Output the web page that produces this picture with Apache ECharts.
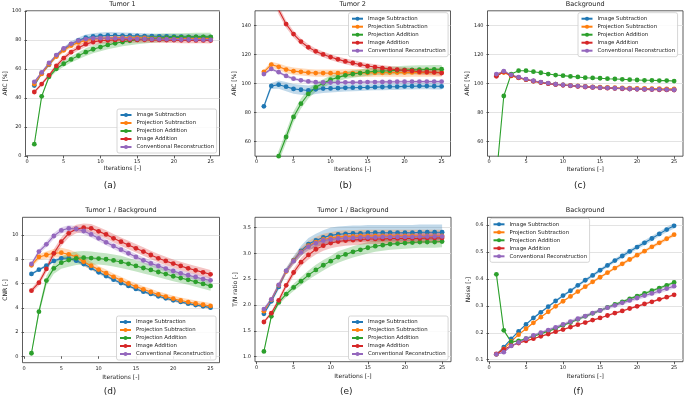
<!DOCTYPE html>
<html>
<head>
<meta charset="utf-8">
<script src="https://cdn.jsdelivr.net/npm/echarts@6/dist/echarts.min.js"></script>
<style>html,body{margin:0;padding:0;background:#fff}#chart{width:685px;height:398px}</style>
</head>
<body>
<div id="chart"></div>
<script>
var myChart = echarts.init(document.getElementById('chart'));

// x values and tick labels
var iters = [1, 2, 3, 4, 5, 6, 7, 8, 9, 10, 11, 12, 13, 14, 15, 16, 17, 18, 19, 20, 21, 22, 23, 24, 25];
var xTicks = [0, 5, 10, 15, 20, 25];
var methods = ['Image Subtraction', 'Projection Subtraction', 'Projection Addition', 'Image Addition', 'Conventional Reconstruction'];
var colors = ['#1f77b4', '#ff7f0e', '#2ca02c', '#d62728', '#9467bd'];
var bandColors = ['rgba(31,119,180,0.28)', 'rgba(255,127,14,0.28)', 'rgba(44,160,44,0.28)', 'rgba(214,39,40,0.28)', 'rgba(148,103,189,0.28)'];

// (a) Tumor 1 ARC [%]
var arcT1Ticks = [0, 20, 40, 60, 80, 100];
var arcT1_IS = [48.4, 56.9, 62.8, 69.0, 73.5, 77.0, 79.6, 81.4, 82.3, 82.7, 83.0, 83.0, 82.9, 82.8, 82.7, 82.6, 82.5, 82.4, 82.3, 82.2, 82.1, 82.0, 82.0, 81.9, 81.8];
var arcT1_PS = [49.5, 56.5, 63.0, 68.5, 72.8, 76.0, 78.2, 79.6, 80.5, 81.0, 81.2, 81.3, 81.3, 81.3, 81.3, 81.3, 81.2, 81.2, 81.2, 81.2, 81.1, 81.1, 81.1, 81.0, 81.0];
var arcT1_PA = [8.0, 41.0, 54.5, 60.0, 63.5, 66.5, 69.0, 71.5, 73.5, 75.0, 76.5, 77.6, 78.5, 79.3, 80.0, 80.5, 80.9, 81.2, 81.5, 81.7, 81.8, 81.9, 82.0, 82.0, 82.0];
var arcT1_IA = [44.0, 49.5, 55.5, 62.0, 67.3, 71.5, 74.6, 77.0, 78.5, 79.3, 79.7, 79.9, 80.0, 80.0, 80.0, 80.0, 79.9, 79.9, 79.8, 79.8, 79.7, 79.7, 79.6, 79.6, 79.5];
var arcT1_CR = [51.0, 57.5, 64.0, 69.5, 74.0, 77.2, 79.4, 80.5, 81.0, 81.1, 81.1, 81.0, 80.9, 80.8, 80.7, 80.6, 80.5, 80.4, 80.4, 80.3, 80.2, 80.2, 80.1, 80.1, 80.0];
var arcT1_IS_sd = [1.0, 1.0, 1.2, 1.4, 1.6, 1.8, 2.0, 2.2, 2.3, 2.3, 2.3, 2.2, 2.1, 2.0, 2.0, 1.9, 1.9, 1.8, 1.8, 1.8, 1.8, 1.7, 1.7, 1.7, 1.7];
var arcT1_PS_sd = [1.0, 1.0, 1.1, 1.3, 1.5, 1.6, 1.7, 1.8, 1.8, 1.8, 1.8, 1.8, 1.8, 1.8, 1.8, 1.8, 1.8, 1.8, 1.8, 1.8, 1.8, 1.8, 1.8, 1.8, 1.8];
var arcT1_PA_sd = [0.5, 1.0, 1.4, 1.8, 2.0, 2.2, 2.4, 2.6, 2.8, 2.9, 3.0, 3.0, 3.0, 3.0, 3.0, 3.0, 2.9, 2.9, 2.9, 2.8, 2.8, 2.8, 2.8, 2.8, 2.8];
var arcT1_IA_sd = [1.0, 1.2, 1.3, 1.5, 1.7, 1.8, 1.9, 2.0, 2.0, 2.0, 2.0, 2.0, 2.0, 2.0, 2.0, 2.0, 2.0, 2.0, 2.0, 2.0, 2.0, 2.0, 2.0, 2.0, 2.0];
var arcT1_CR_sd = [0.8, 0.8, 0.9, 0.9, 1.0, 1.0, 1.0, 1.0, 1.0, 1.0, 1.0, 1.0, 1.0, 1.0, 1.0, 1.0, 1.0, 1.0, 1.0, 1.0, 1.0, 1.0, 1.0, 1.0, 1.0];

// (b) Tumor 2 ARC [%]
var arcTicks = [60, 80, 100, 120, 140];
var arcT2_IS = [84.3, 98.3, 99.2, 97.8, 96.3, 95.7, 95.2, 96.0, 96.5, 96.6, 96.8, 97.0, 97.1, 97.2, 97.3, 97.5, 97.6, 97.8, 97.8, 98.0, 98.1, 98.2, 98.2, 98.1, 98.0];
var arcT2_PS = [108.0, 113.0, 111.5, 109.6, 108.5, 108.0, 107.5, 107.2, 107.2, 107.1, 107.1, 107.2, 107.2, 107.3, 107.3, 107.4, 107.4, 107.5, 107.5, 107.5, 107.6, 107.6, 107.6, 107.6, 107.6];
var arcT2_PA = [15.0, 35.0, 50.0, 63.2, 77.0, 86.1, 92.8, 97.4, 100.1, 102.6, 104.2, 105.6, 106.5, 107.2, 107.9, 108.4, 108.6, 108.8, 109.1, 109.3, 109.4, 109.5, 109.6, 109.7, 109.8];
var arcT2_IA = [190.0, 165.0, 150.5, 140.9, 134.0, 128.8, 124.9, 122.1, 120.0, 118.2, 116.6, 115.2, 114.1, 113.0, 112.0, 111.3, 110.6, 110.0, 109.5, 109.0, 108.6, 108.1, 107.9, 107.7, 107.2];
var arcT2_CR = [106.5, 110.0, 107.8, 105.2, 103.3, 102.2, 101.4, 100.9, 100.7, 100.7, 100.7, 100.8, 100.8, 100.9, 101.0, 101.0, 101.1, 101.1, 101.2, 101.2, 101.3, 101.3, 101.3, 101.3, 101.3];
var arcT2_IS_sd = [1.5, 2.0, 2.8, 3.2, 3.4, 3.5, 3.5, 3.3, 3.0, 2.8, 2.6, 2.5, 2.4, 2.3, 2.2, 2.2, 2.2, 2.2, 2.2, 2.2, 2.2, 2.2, 2.2, 2.2, 2.2];
var arcT2_PS_sd = [1.5, 2.0, 2.3, 2.5, 2.5, 2.5, 2.5, 2.5, 2.5, 2.5, 2.6, 2.6, 2.7, 2.7, 2.8, 2.8, 2.8, 2.9, 2.9, 3.0, 3.0, 3.0, 3.0, 3.0, 3.0];
var arcT2_PA_sd = [2.0, 3.0, 4.0, 4.0, 3.8, 3.5, 3.2, 3.0, 2.8, 2.7, 2.6, 2.5, 2.5, 2.5, 2.6, 2.6, 2.7, 2.8, 2.8, 2.9, 3.0, 3.0, 3.0, 3.0, 3.0];
var arcT2_IA_sd = [3.0, 3.0, 3.0, 2.5, 2.3, 2.2, 2.1, 2.0, 2.0, 2.0, 2.0, 2.0, 2.0, 2.0, 2.0, 2.0, 2.0, 2.0, 2.0, 2.0, 2.0, 2.0, 2.0, 2.0, 2.0];
var arcT2_CR_sd = [1.0, 1.0, 1.0, 1.0, 1.0, 1.0, 1.0, 1.0, 1.0, 1.0, 1.0, 1.0, 1.0, 1.0, 1.0, 1.0, 1.0, 1.0, 1.0, 1.0, 1.0, 1.0, 1.0, 1.0, 1.0];

// (c) Background ARC [%]
var arcBg_IS = [105.5, 108.0, 105.6, 104.1, 102.8, 101.7, 100.8, 100.1, 99.5, 99.0, 98.6, 98.2, 97.8, 97.5, 97.2, 97.0, 96.8, 96.6, 96.4, 96.3, 96.2, 96.1, 96.0, 95.9, 95.8];
var arcBg_PS = [105.8, 107.5, 105.2, 103.8, 102.6, 101.6, 100.8, 100.1, 99.5, 99.1, 98.7, 98.3, 98.0, 97.7, 97.5, 97.3, 97.1, 96.9, 96.8, 96.7, 96.6, 96.5, 96.4, 96.3, 96.3];
var arcBg_PA = [36.0, 91.4, 106.5, 108.8, 108.8, 108.1, 107.4, 106.5, 105.8, 105.4, 104.9, 104.5, 104.0, 103.8, 103.6, 103.3, 103.1, 102.9, 102.6, 102.4, 102.2, 102.2, 102.0, 102.0, 101.7];
var arcBg_IA = [105.0, 108.0, 105.5, 104.0, 102.7, 101.6, 100.7, 99.9, 99.3, 98.8, 98.4, 98.0, 97.6, 97.3, 97.0, 96.8, 96.6, 96.4, 96.2, 96.0, 95.9, 95.8, 95.7, 95.6, 95.5];
var arcBg_CR = [106.5, 108.5, 106.0, 104.3, 103.0, 101.9, 101.0, 100.2, 99.5, 99.0, 98.6, 98.2, 97.8, 97.5, 97.2, 97.0, 96.8, 96.6, 96.4, 96.2, 96.1, 96.0, 95.9, 95.8, 95.7];

// (d) Tumor 1 / Background CNR [-]
var cnrTicks = [0, 2, 4, 6, 8, 10];
var cnr_IS = [6.79, 7.14, 7.47, 7.86, 8.08, 8.08, 7.88, 7.60, 7.28, 6.92, 6.62, 6.32, 6.04, 5.80, 5.55, 5.33, 5.14, 4.95, 4.78, 4.62, 4.48, 4.34, 4.23, 4.12, 4.01];
var cnr_PS = [7.50, 8.19, 8.35, 8.49, 8.54, 8.41, 8.19, 7.80, 7.47, 7.15, 6.85, 6.55, 6.27, 6.00, 5.75, 5.52, 5.30, 5.10, 4.92, 4.75, 4.60, 4.47, 4.35, 4.25, 4.15];
var cnr_PA = [0.25, 3.68, 6.24, 7.25, 7.72, 7.94, 8.08, 8.13, 8.10, 8.06, 8.00, 7.90, 7.78, 7.62, 7.45, 7.28, 7.12, 6.95, 6.78, 6.60, 6.45, 6.30, 6.14, 5.97, 5.80];
var cnr_IA = [5.41, 6.07, 7.20, 8.49, 9.45, 10.14, 10.50, 10.60, 10.55, 10.30, 10.05, 9.73, 9.45, 9.18, 8.90, 8.63, 8.35, 8.08, 7.86, 7.64, 7.45, 7.25, 7.09, 6.92, 6.76];
var cnr_CR = [7.61, 8.63, 9.23, 9.92, 10.38, 10.55, 10.50, 10.33, 10.05, 9.73, 9.40, 9.09, 8.79, 8.49, 8.19, 7.91, 7.66, 7.45, 7.23, 7.03, 6.84, 6.68, 6.54, 6.37, 6.26];
var cnr_IS_sd = [0.1, 0.1, 0.12, 0.12, 0.14, 0.15, 0.15, 0.15, 0.15, 0.15, 0.14, 0.14, 0.13, 0.13, 0.12, 0.12, 0.12, 0.11, 0.11, 0.11, 0.1, 0.1, 0.1, 0.1, 0.1];
var cnr_PS_sd = [0.2, 0.25, 0.3, 0.35, 0.4, 0.4, 0.38, 0.35, 0.33, 0.3, 0.3, 0.28, 0.28, 0.27, 0.27, 0.26, 0.26, 0.25, 0.25, 0.25, 0.25, 0.25, 0.25, 0.25, 0.25];
var cnr_PA_sd = [0.1, 0.3, 0.4, 0.45, 0.5, 0.55, 0.55, 0.55, 0.55, 0.5, 0.5, 0.5, 0.5, 0.48, 0.46, 0.45, 0.44, 0.43, 0.42, 0.41, 0.4, 0.4, 0.4, 0.4, 0.4];
var cnr_IA_sd = [0.2, 0.25, 0.3, 0.35, 0.35, 0.35, 0.35, 0.35, 0.35, 0.35, 0.35, 0.35, 0.35, 0.35, 0.35, 0.35, 0.35, 0.35, 0.35, 0.35, 0.35, 0.35, 0.35, 0.35, 0.35];
var cnr_CR_sd = [0.15, 0.2, 0.25, 0.25, 0.25, 0.25, 0.25, 0.25, 0.25, 0.25, 0.25, 0.25, 0.25, 0.25, 0.25, 0.25, 0.25, 0.25, 0.25, 0.25, 0.25, 0.25, 0.25, 0.25, 0.25];

// (e) Tumor 1 / Background T/N ratio [-]
var tnTicks = [1.0, 1.5, 2.0, 2.5, 3.0, 3.5];
var tn_IS = [1.83, 2.07, 2.35, 2.66, 2.87, 3.05, 3.18, 3.25, 3.31, 3.35, 3.37, 3.38, 3.39, 3.39, 3.40, 3.40, 3.40, 3.40, 3.40, 3.40, 3.40, 3.41, 3.41, 3.41, 3.41];
var tn_PS = [1.88, 2.10, 2.38, 2.65, 2.86, 3.03, 3.15, 3.22, 3.27, 3.30, 3.32, 3.33, 3.33, 3.34, 3.34, 3.34, 3.34, 3.34, 3.34, 3.34, 3.34, 3.34, 3.34, 3.34, 3.34];
var tn_PA = [1.10, 1.78, 2.05, 2.21, 2.34, 2.46, 2.58, 2.68, 2.77, 2.85, 2.93, 2.98, 3.03, 3.07, 3.11, 3.14, 3.16, 3.18, 3.19, 3.20, 3.21, 3.22, 3.22, 3.22, 3.23];
var tn_IA = [1.67, 1.84, 2.09, 2.38, 2.63, 2.83, 2.97, 3.08, 3.15, 3.20, 3.23, 3.25, 3.26, 3.27, 3.28, 3.28, 3.28, 3.29, 3.29, 3.29, 3.29, 3.29, 3.30, 3.30, 3.30];
var tn_CR = [1.92, 2.11, 2.39, 2.66, 2.85, 3.02, 3.13, 3.20, 3.25, 3.27, 3.29, 3.30, 3.30, 3.31, 3.31, 3.31, 3.32, 3.32, 3.32, 3.32, 3.32, 3.33, 3.33, 3.33, 3.33];
var tn_IS_sd = [0.03, 0.04, 0.05, 0.06, 0.08, 0.1, 0.12, 0.13, 0.14, 0.15, 0.15, 0.15, 0.15, 0.15, 0.15, 0.15, 0.15, 0.15, 0.15, 0.15, 0.15, 0.15, 0.15, 0.15, 0.15];
var tn_PS_sd = [0.03, 0.04, 0.05, 0.06, 0.07, 0.08, 0.09, 0.1, 0.11, 0.11, 0.12, 0.12, 0.12, 0.12, 0.12, 0.12, 0.12, 0.12, 0.12, 0.12, 0.12, 0.12, 0.12, 0.12, 0.12];
var tn_PA_sd = [0.02, 0.04, 0.05, 0.06, 0.07, 0.08, 0.09, 0.1, 0.1, 0.1, 0.11, 0.11, 0.11, 0.11, 0.11, 0.11, 0.11, 0.11, 0.11, 0.11, 0.11, 0.11, 0.11, 0.11, 0.11];
var tn_IA_sd = [0.03, 0.04, 0.05, 0.06, 0.07, 0.08, 0.09, 0.1, 0.1, 0.1, 0.1, 0.1, 0.1, 0.1, 0.1, 0.1, 0.1, 0.1, 0.1, 0.1, 0.1, 0.1, 0.1, 0.1, 0.1];
var tn_CR_sd = [0.03, 0.04, 0.05, 0.05, 0.06, 0.07, 0.07, 0.08, 0.08, 0.08, 0.08, 0.08, 0.08, 0.08, 0.08, 0.08, 0.08, 0.08, 0.08, 0.08, 0.08, 0.08, 0.08, 0.08, 0.08];

// (f) Background Noise [-]
var noiseTicks = [0.1, 0.2, 0.3, 0.4, 0.5, 0.6];
var noise_IS = [0.120, 0.147, 0.177, 0.205, 0.231, 0.255, 0.276, 0.297, 0.318, 0.338, 0.356, 0.376, 0.395, 0.413, 0.432, 0.450, 0.468, 0.485, 0.502, 0.518, 0.534, 0.550, 0.567, 0.583, 0.597];
var noise_PS = [0.120, 0.140, 0.168, 0.193, 0.215, 0.237, 0.258, 0.278, 0.298, 0.317, 0.335, 0.353, 0.371, 0.389, 0.406, 0.423, 0.440, 0.456, 0.472, 0.488, 0.503, 0.519, 0.534, 0.549, 0.564];
var noise_PA = [0.417, 0.209, 0.166, 0.170, 0.178, 0.187, 0.196, 0.206, 0.216, 0.228, 0.238, 0.250, 0.261, 0.272, 0.283, 0.294, 0.305, 0.315, 0.326, 0.336, 0.346, 0.356, 0.366, 0.376, 0.387];
var noise_IA = [0.122, 0.138, 0.152, 0.162, 0.170, 0.178, 0.187, 0.195, 0.204, 0.212, 0.221, 0.230, 0.238, 0.247, 0.255, 0.264, 0.273, 0.281, 0.290, 0.298, 0.307, 0.315, 0.324, 0.332, 0.341];
var noise_CR = [0.120, 0.128, 0.151, 0.164, 0.178, 0.190, 0.200, 0.210, 0.220, 0.231, 0.241, 0.252, 0.262, 0.273, 0.283, 0.293, 0.302, 0.311, 0.320, 0.329, 0.338, 0.346, 0.355, 0.364, 0.373];
var noise_IS_sd = [0.002, 0.002, 0.003, 0.003, 0.003, 0.004, 0.004, 0.004, 0.005, 0.005, 0.005, 0.006, 0.006, 0.006, 0.007, 0.007, 0.007, 0.008, 0.008, 0.008, 0.009, 0.009, 0.009, 0.01, 0.01];
var noise_PS_sd = [0.002, 0.002, 0.002, 0.003, 0.003, 0.003, 0.003, 0.004, 0.004, 0.004, 0.004, 0.004, 0.005, 0.005, 0.005, 0.005, 0.005, 0.006, 0.006, 0.006, 0.006, 0.006, 0.007, 0.007, 0.007];
var noise_PA_sd = [0.004, 0.003, 0.003, 0.003, 0.003, 0.003, 0.003, 0.003, 0.004, 0.004, 0.004, 0.004, 0.004, 0.004, 0.004, 0.004, 0.005, 0.005, 0.005, 0.005, 0.005, 0.005, 0.005, 0.005, 0.005];
var noise_IA_sd = [0.002, 0.002, 0.002, 0.002, 0.002, 0.002, 0.003, 0.003, 0.003, 0.003, 0.003, 0.003, 0.003, 0.003, 0.003, 0.003, 0.004, 0.004, 0.004, 0.004, 0.004, 0.004, 0.004, 0.004, 0.004];
var noise_CR_sd = [0.002, 0.003, 0.004, 0.004, 0.005, 0.005, 0.005, 0.006, 0.006, 0.006, 0.006, 0.007, 0.007, 0.007, 0.007, 0.007, 0.008, 0.008, 0.008, 0.008, 0.008, 0.008, 0.009, 0.009, 0.009];

var FONT = 'DejaVu Sans';
var TXT = '#222';

// layout of the six panels
var panels = [
    { title: 'Tumor 1', tag: '(a)', tagX: 110, yName: 'ARC [%]', nameGap: 16, row: 0,
      grid: { left: 25.5, top: 10.8, width: 194, height: 145 }, yMin: 0, yMax: 100, yTicks: arcT1Ticks, dec: 0,
      legend: { left: 117, top: 109 },
      means: [arcT1_IS, arcT1_PS, arcT1_PA, arcT1_IA, arcT1_CR],
      sds: [arcT1_IS_sd, arcT1_PS_sd, arcT1_PA_sd, arcT1_IA_sd, arcT1_CR_sd] },
    { title: 'Tumor 2', tag: '(b)', tagX: 345.7, yName: 'ARC [%]', nameGap: 18, row: 0,
      grid: { left: 255, top: 10.8, width: 195.5, height: 145.4 }, yMin: 50, yMax: 150, yTicks: arcTicks, dec: 0,
      legend: { left: 348.5, top: 12.7 },
      means: [arcT2_IS, arcT2_PS, arcT2_PA, arcT2_IA, arcT2_CR],
      sds: [arcT2_IS_sd, arcT2_PS_sd, arcT2_PA_sd, arcT2_IA_sd, arcT2_CR_sd] },
    { title: 'Background', tag: '(c)', tagX: 580, yName: 'ARC [%]', nameGap: 17.5, row: 0,
      grid: { left: 487.5, top: 10.8, width: 195.5, height: 145.4 }, yMin: 50, yMax: 150, yTicks: arcTicks, dec: 0,
      legend: { left: 578, top: 12.7 },
      means: [arcBg_IS, arcBg_PS, arcBg_PA, arcBg_IA, arcBg_CR],
      sds: null },
    { title: 'Tumor 1 / Background', tag: '(d)', tagX: 110, yName: 'CNR [-]', nameGap: 14.5, row: 1,
      grid: { left: 22.5, top: 217.3, width: 197, height: 145.4 }, yMin: -0.53, yMax: 11.46, yTicks: cnrTicks, dec: 0,
      legend: { left: 116.5, top: 316 },
      means: [cnr_IS, cnr_PS, cnr_PA, cnr_IA, cnr_CR],
      sds: [cnr_IS_sd, cnr_PS_sd, cnr_PA_sd, cnr_IA_sd, cnr_CR_sd] },
    { title: 'Tumor 1 / Background', tag: '(e)', tagX: 346.3, yName: 'T/N ratio [-]', nameGap: 16.5, row: 1,
      grid: { left: 255, top: 217.3, width: 196, height: 144.4 }, yMin: 0.90, yMax: 3.70, yTicks: tnTicks, dec: 1,
      legend: { left: 348.5, top: 316 },
      means: [tn_IS, tn_PS, tn_PA, tn_IA, tn_CR],
      sds: [tn_IS_sd, tn_PS_sd, tn_PA_sd, tn_IA_sd, tn_CR_sd] },
    { title: 'Background', tag: '(f)', tagX: 578.3, yName: 'Noise [-]', nameGap: 15.5, row: 1,
      grid: { left: 487.5, top: 217.3, width: 195.5, height: 144.4 }, yMin: 0.0926, yMax: 0.6286, yTicks: noiseTicks, dec: 1,
      legend: { left: 490, top: 218.3 },
      means: [noise_IS, noise_PS, noise_PA, noise_IA, noise_CR],
      sds: [noise_IS_sd, noise_PS_sd, noise_PA_sd, noise_IA_sd, noise_CR_sd] }
];

// one polygon per shaded band, built from mean +- sd through the axis scale
function bandRenderer(mean, sd, fill) {
    return function (params, api) {
        var top = [], bottom = [];
        for (var k = 0; k < iters.length; k++) {
            top.push(api.coord([iters[k], mean[k] + sd[k]]));
            bottom.unshift(api.coord([iters[k], mean[k] - sd[k]]));
        }
        var cs = params.coordSys;
        return {
            type: 'polygon',
            shape: { points: top.concat(bottom) },
            style: { fill: fill },
            clipPath: { type: 'rect', shape: { x: cs.x, y: cs.y, width: cs.width, height: cs.height } },
            silent: true
        };
    };
}

var grids = [], xAxes = [], yAxes = [], legends = [], series = [], texts = [];

panels.forEach(function (p, i) {
    grids.push({
        left: p.grid.left, top: p.grid.top, width: p.grid.width, height: p.grid.height,
        show: true, borderColor: '#333', borderWidth: 0.8, outerBoundsMode: 'none'
    });
    xAxes.push({
        type: 'value', gridIndex: i, min: -0.2, max: 26.2,
        name: 'Iterations [-]', nameLocation: 'middle', nameGap: p.row === 0 ? 10 : 11.5,
        nameTextStyle: { fontSize: 6, color: TXT, fontFamily: FONT },
        axisLine: { show: false },
        axisTick: { show: true, length: 2.5, lineStyle: { color: '#333', width: 0.8 }, customValues: xTicks },
        axisLabel: { fontSize: 5, color: TXT, margin: 3.5, fontFamily: FONT, customValues: xTicks },
        splitLine: { show: false }
    });
    yAxes.push({
        type: 'value', gridIndex: i, min: p.yMin, max: p.yMax,
        name: p.yName, nameLocation: 'middle', nameGap: p.nameGap,
        nameTextStyle: { fontSize: 6, color: TXT, fontFamily: FONT },
        axisLine: { show: false },
        axisTick: { show: true, length: 2.5, lineStyle: { color: '#333', width: 0.8 }, customValues: p.yTicks },
        axisLabel: {
            fontSize: 5, color: TXT, margin: 4, fontFamily: FONT, customValues: p.yTicks,
            formatter: (function (d) { return function (v) { return v.toFixed(d); }; })(p.dec)
        },
        splitLine: { show: true, lineStyle: { color: '#dcdcdc', width: 0.8 } }
    });
    legends.push({
        data: methods, orient: 'vertical', left: p.legend.left, top: p.legend.top,
        itemWidth: 11, itemHeight: 5, itemGap: 0, padding: [2, 2.5],
        backgroundColor: 'rgba(255,255,255,0.85)', borderColor: '#ccc', borderWidth: 0.8, borderRadius: 2,
        textStyle: { fontSize: 5.4, lineHeight: 8, color: TXT, fontFamily: FONT },
        selectedMode: false, z: 10
    });

    if (p.sds) {
        p.means.forEach(function (m, j) {
            series.push({
                name: 'band_' + i + '_' + j, type: 'custom', xAxisIndex: i, yAxisIndex: i,
                data: [[iters[0], m[0]]], renderItem: bandRenderer(m, p.sds[j], bandColors[j]),
                silent: true, z: 1
            });
        });
    }
    p.means.forEach(function (m, j) {
        var pts = [];
        for (var k = 0; k < iters.length; k++) pts.push([iters[k], m[k]]);
        series.push({
            name: methods[j], type: 'line', xAxisIndex: i, yAxisIndex: i,
            data: pts, symbol: 'circle', symbolSize: 4.8, showSymbol: true,
            lineStyle: { color: colors[j], width: 1.1 }, itemStyle: { color: colors[j] }, z: 2
        });
    });

    texts.push({
        type: 'text', x: p.grid.left + p.grid.width / 2, y: p.row === 0 ? 4.5 : 210.5,
        style: { text: p.title, fontSize: 6.5, fontFamily: FONT, fill: TXT, align: 'center', verticalAlign: 'middle' }
    });
    texts.push({
        type: 'text', x: p.tagX, y: p.row === 0 ? 185.5 : 391.5,
        style: { text: p.tag, fontSize: 9, fontFamily: FONT, fill: TXT, align: 'center', verticalAlign: 'middle' }
    });
});

var option = {
    animation: false,
    grid: grids,
    xAxis: xAxes,
    yAxis: yAxes,
    legend: legends,
    series: series,
    graphic: texts
};

myChart.setOption(option);
</script>
</body>
</html>
